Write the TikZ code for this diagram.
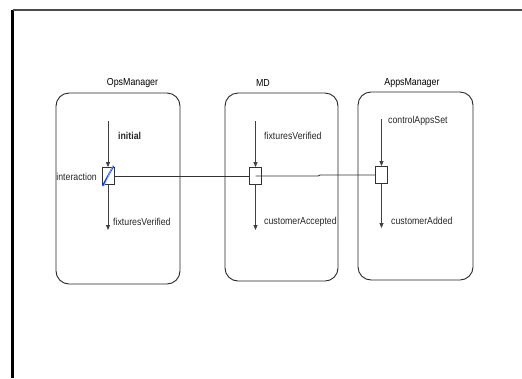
\documentclass[tikz,border=0pt]{standalone}
\usepackage{fontspec}
\setmainfont{Liberation Sans}[FakeStretch=0.87]
\usetikzlibrary{arrows.meta}
\begin{document}
\begin{tikzpicture}[x=1bp,y=-1bp,
  lane/.style={draw=black!85, line width=0.9bp, rounded corners=13bp, inner sep=0pt},
  port/.style={draw=black!80, line width=0.8bp, fill=white, rectangle, inner sep=0pt, minimum width=12bp, minimum height=17bp},
  flow/.style={draw=black!75, line width=0.8bp, -{Triangle[length=5bp,width=4bp]}},
  conn/.style={draw=black!80, line width=0.9bp},
  lbl/.style={font=\fontsize{10.1}{12}\selectfont, inner sep=0pt, text=black!85},
  ttl/.style={font=\fontsize{10.2}{12}\selectfont, inner sep=0pt}]
\useasboundingbox (0,0) rectangle (522,378);
% frame
\draw[line width=2.2bp, black] (12.5,378) -- (12.5,9.5);
\draw[line width=2bp, black!70] (12.5,9.5) -- (522,9.5);
% lanes
\node[lane, minimum width=124bp, minimum height=191bp] (opsbox) at (118,188.5) {};
\node[lane, minimum width=113bp, minimum height=188bp] (mdbox) at (281.5,187) {};
\node[lane, minimum width=115bp, minimum height=188bp] (appsbox) at (415.5,186) {};
% titles
\node[ttl] (opst) at (132.5,83) {OpsManager};
\node[ttl] (mdt) at (263,83) {MD};
\node[ttl] (appst) at (412,83) {AppsManager};
% ports
\node[port] (opssq) at (108,176) {};
\node[port] (mdsq) at (255.5,176) {};
\node[port] (appssq) at (381.5,175) {};
\draw[line width=1.6bp, blue!75!cyan] ([shift={(1bp,-1bp)}]opssq.south west) -- ([shift={(-1bp,1bp)}]opssq.north east);
\draw[line width=0.6bp, blue!30] ([shift={(2.5bp,-1bp)}]opssq.south west) -- ([shift={(-1bp,2.5bp)}]opssq.north east);
% flow coordinates
\coordinate (opsin) at (108,121);
\coordinate (opsout) at (108,230);
\coordinate (mdin) at (255.5,121);
\coordinate (mdout) at (255.5,230);
\coordinate (appsin) at (381.5,119);
\coordinate (appsout) at (381.5,228);
\draw[flow] (opsin) -- (opssq.north);
\draw[flow] (opssq.south) -- (opsout);
\draw[flow] (mdin) -- (mdsq.north);
\draw[flow] (mdsq.south) -- (mdout);
\draw[flow] (appsin) -- (appssq.north);
\draw[flow] (appssq.south) -- (appsout);
% horizontal connector
\coordinate (jog1) at (318,176);
\coordinate (jog2) at (320,175);
\draw[conn] (opssq.east) -- (mdsq.west);
\draw[conn] (mdsq.center) -- (mdsq.east) -- (jog1) -- (jog2) -- (appssq.west);
% labels
\node[lbl, anchor=west, font=\fontsize{10.1}{12}\selectfont\bfseries] (l1) at (118,136) {initial};
\node[lbl, anchor=east] (l2) at (97,177) {interaction};
\node[lbl, anchor=west] (l3) at (113,222) {fixturesVerified};
\node[lbl, anchor=west] (l4) at (264,136) {fixturesVerified};
\node[lbl, anchor=west] (l5) at (264,222) {customerAccepted};
\node[lbl, anchor=west] (l6) at (388,121) {controlAppsSet};
\node[lbl, anchor=west] (l7) at (391,221) {customerAdded};
\end{tikzpicture}
\end{document}
